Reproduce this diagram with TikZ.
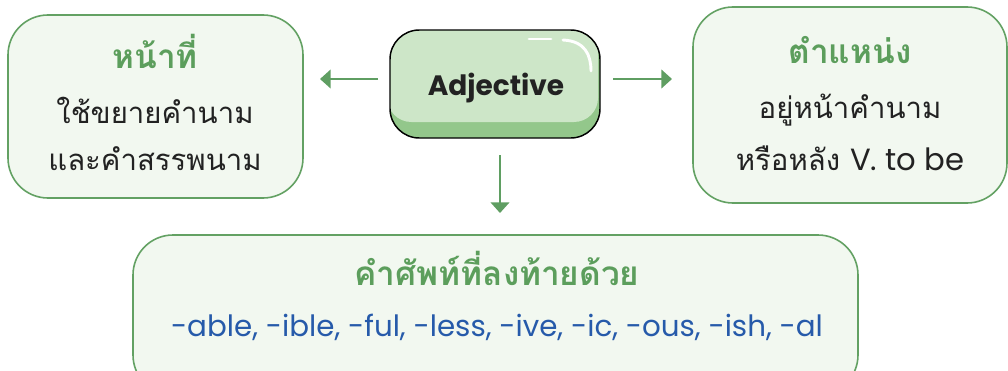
\documentclass[tikz,border=0pt]{standalone}
\usepackage{fontspec}
\usepackage{xcolor}
\usetikzlibrary{arrows.meta}
\newfontfamily\thaifont[Script=Thai]{Loma}
\newfontfamily\latinfont{Poppins}
\definecolor{boxline}{RGB}{99,161,99}
\definecolor{boxfill}{RGB}{242,248,240}
\definecolor{headgreen}{RGB}{92,158,92}
\definecolor{arrowgreen}{RGB}{95,158,98}
\definecolor{adjlight}{RGB}{205,230,200}
\definecolor{adjdark}{RGB}{147,199,139}
\definecolor{suffixblue}{RGB}{38,90,170}
\definecolor{bodytext}{RGB}{34,34,34}
\tikzset{
  infobox/.style={draw=boxline, fill=boxfill, line width=1.2pt, rounded corners=30pt, outer sep=0pt},
  headtext/.style={anchor=base, text=headgreen, font=\thaifont\bfseries\fontsize{25}{28}\selectfont},
  bodytxt/.style={anchor=base, text=bodytext, font=\thaifont\fontsize{22}{26}\selectfont},
  arr/.style={draw=arrowgreen, line width=1.5pt, -{Triangle[width=14pt,length=8pt]}}
}

\begin{document}
\begin{tikzpicture}[x=0.75pt,y=0.75pt,yscale=-1,xscale=1]
\useasboundingbox (0,0) rectangle (1008,371);

%Boxes
\node[infobox, minimum width=221.25pt, minimum height=137.25pt] (role) at (155.5,106.5) {};
\node[infobox, minimum width=235.5pt, minimum height=147pt] (place) at (850,105) {};
\node[infobox, minimum width=543.75pt, minimum height=120pt] (suffix) at (495.5,315) {};

%Adjective box
\node[draw=black, fill=adjdark, line width=1.1pt, rounded corners=22pt, outer sep=0pt,
  minimum width=157.5pt, minimum height=81pt,
  path picture={\fill[adjlight, rounded corners=18pt] ([shift={(-2pt,2pt)}]path picture bounding box.north west) rectangle ([shift={(-1.5pt,12pt)}]path picture bounding box.south east);}] (adj) at (495,84) {};
\node[anchor=base, text=bodytext, font=\latinfont\bfseries\fontsize{21}{24}\selectfont] (adjtext) at (496,95) {Adjective};
\draw[white, line width=2.2pt, line cap=round] (529,39) -- (551,39);
\draw[white, line width=2.2pt, line cap=round] (563,40) .. controls (585,41) and (591,55) .. (591,71);

%Arrows
\draw[arr, shorten <=9pt, shorten >=12.75pt] ([yshift=-3.75pt]adj.west) -- ([yshift=-3.75pt]adj.west -| role.east);
\draw[arr, shorten <=9.75pt, shorten >=15.75pt] ([yshift=-3.75pt]adj.east) -- ([yshift=-3.75pt]adj.east -| place.west);
\draw[arr, shorten <=12.75pt, shorten >=16.5pt] ([xshift=3.75pt]adj.south) -- ([xshift=3.75pt]adj.south |- suffix.north);

% Text Node
\node[headtext] (rolehead) at (155,68) {หน้าที่};
\node[bodytxt] (rolea) at (155,123) {ใช้ขยายคำนาม};
\node[bodytxt] (roleb) at (155,170) {และคำสรรพนาม};
% Text Node
\node[headtext] (placehead) at (850,63) {ตำแหน่ง};
\node[bodytxt] (placea) at (850,118) {อยู่หน้าคำนาม};
\node[bodytxt] (placeb) at (850,170) {หรือหลัง {\latinfont\fontsize{23}{26}\selectfont V. to be}};
% Text Node
\node[headtext] (suffixhead) at (497,285) {คำศัพท์ที่ลงท้ายด้วย};
\node[anchor=base, text=suffixblue, font=\latinfont\fontsize{22}{26}\selectfont] (suffixlist) at (497,336) {-able, -ible, -ful, -less, -ive, -ic, -ous, -ish, -al};
\end{tikzpicture}
\end{document}
